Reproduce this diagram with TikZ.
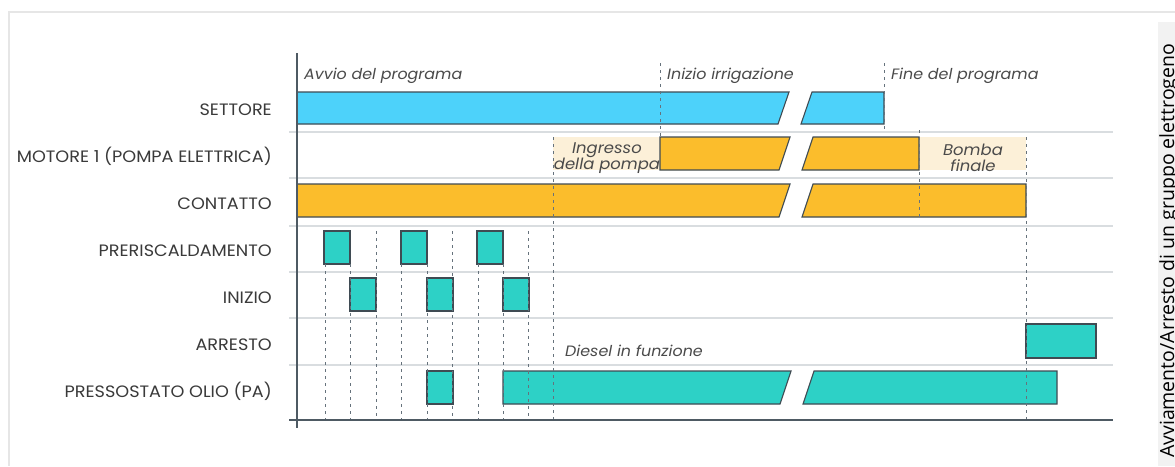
\documentclass[tikz,border=0pt]{standalone}
\usepackage{fontspec}
\setmainfont{Poppins}
\newfontfamily\labfont{Poppins}[FakeStretch=1.07]
\newfontfamily\notefont{Poppins}[FakeStretch=1.06]
\newfontfamily\panelfont{Open Sans}
\definecolor{blueon}{HTML}{4DD2FA}
\definecolor{orangeon}{HTML}{FBBD2C}
\definecolor{tealon}{HTML}{2DD1C6}
\definecolor{creamzone}{HTML}{FCF0D8}
\definecolor{edgegray}{HTML}{3F4B53}
\definecolor{sepgray}{HTML}{D9DDE0}
\definecolor{axisgray}{HTML}{4E5A63}
\definecolor{guidegray}{HTML}{66727C}
\definecolor{labgray}{HTML}{3A3A3A}
\definecolor{notegray}{HTML}{4A4A4A}
\definecolor{framegray}{HTML}{E6E6E6}
\definecolor{panelgray}{HTML}{F2F2F2}
\tikzset{
  sigbar/.style={draw=edgegray, line width=1.1pt, line join=miter},
  rowsep/.style={draw=sepgray, line width=1.5pt},
  axisline/.style={draw=axisgray, line width=1.5pt},
  guide/.style={draw=guidegray, line width=1pt, dash pattern=on 3pt off 4pt},
  siglabel/.style={anchor=base east, inner sep=0pt, text=labgray,
    font=\labfont\fontsize{16.5}{19}\selectfont},
  note/.style={anchor=base west, inner sep=0pt, text=notegray,
    font=\notefont\fontsize{15}{17}\selectfont\itshape},
  zonetext/.style={align=center, inner sep=0pt, text=notegray,
    font=\notefont\fontsize{15.5}{16}\selectfont\itshape},
  paneltext/.style={rotate=90, anchor=base west, inner sep=0pt, text=black,
    font=\panelfont\fontsize{19.5}{21}\selectfont},
}
\begin{document}
\begin{tikzpicture}[x=1pt,y=-1pt]
\useasboundingbox (0,0) rectangle (1175,466);
\fill[white] (0,0) rectangle (1175,466);

% frame and side panel
\draw[framegray, line width=1.5pt] (9,466) -- (9,12) -- (1175,12);
\fill[panelgray] (1158,22) rectangle (1175,466);
\node[paneltext] (paneltitle) at (1174,458) {Avviamento/Arresto di un gruppo elettrogeno};

% row separators
\foreach \yy in {132,178,226,272,318,365}
  \draw[rowsep] (289,\yy) -- (1113,\yy);

% signal labels
\node[siglabel] (lsettore) at (272,115) {SETTORE};
\node[siglabel] (lmotore) at (272,162) {MOTORE 1 (POMPA ELETTRICA)};
\node[siglabel] (lcontatto) at (272,209) {CONTATTO};
\node[siglabel] (lpreris) at (272,256) {PRERISCALDAMENTO};
\node[siglabel] (linizio) at (272,303) {INIZIO};
\node[siglabel] (larresto) at (272,350) {ARRESTO};
\node[siglabel] (lpress) at (272,397) {PRESSOSTATO OLIO (PA)};

% event notes
\node[note] (avvio) at (304,79) {Avvio del programa};
\node[note] (irrig) at (667,79) {Inizio irrigazione};
\node[note] (fine) at (891,79) {Fine del programa};
\node[note] (diesel) at (565,356) {Diesel in funzione};

% cream zones of the pump
\fill[creamzone] (553,137) rectangle (660,170);
\fill[creamzone] (919,137) rectangle (1026,170);
\node[zonetext] (ingresso) at (607,158) {Ingresso\\della pompa};
\node[zonetext] (bomba) at (973,158) {Bomba\\finale};

% SETTORE
\filldraw[sigbar, fill=blueon] (297,92) -- (789,92) -- (778,124) -- (297,124) -- cycle;
\filldraw[sigbar, fill=blueon] (812,92) -- (884,92) -- (884,124) -- (801,124) -- cycle;
% MOTORE 1
\filldraw[sigbar, fill=orangeon] (660,137) -- (790,137) -- (779,170) -- (660,170) -- cycle;
\filldraw[sigbar, fill=orangeon] (813,137) -- (919,137) -- (919,170) -- (802,170) -- cycle;
% CONTATTO
\filldraw[sigbar, fill=orangeon] (297,184) -- (790,184) -- (779,217) -- (297,217) -- cycle;
\filldraw[sigbar, fill=orangeon] (813,184) -- (1026,184) -- (1026,217) -- (802,217) -- cycle;
% PRERISCALDAMENTO
\foreach \xa/\xb in {324/350,401/427,477/503}
  \filldraw[sigbar, fill=tealon] (\xa,231) rectangle (\xb,264);
% INIZIO
\foreach \xa/\xb in {350/376,427/453,503/529}
  \filldraw[sigbar, fill=tealon] (\xa,278) rectangle (\xb,311);
% ARRESTO
\filldraw[sigbar, fill=tealon] (1026,324) rectangle (1096,358);
% PRESSOSTATO OLIO
\filldraw[sigbar, fill=tealon] (427,371) rectangle (453,404);
\filldraw[sigbar, fill=tealon] (503,371) -- (791,371) -- (780,404) -- (503,404) -- cycle;
\filldraw[sigbar, fill=tealon] (814,371) -- (1057,371) -- (1057,404) -- (803,404) -- cycle;

% time guides
\draw[guide] (660,63) -- (660,137);
\draw[guide] (884,63) -- (884,132);
\draw[guide] (553,137) -- (553,420);
\draw[guide] (919,130) -- (919,217);
\draw[guide] (1026,137) -- (1026,420);
\foreach \xx in {376,452,528}
  \draw[guide] (\xx,231) -- (\xx,420);
\foreach \xx in {325,350,401,427,478,503}
  \draw[guide] (\xx,264) -- (\xx,420);

% axes
\draw[axisline] (297,53) -- (297,428);
\draw[axisline] (289,420) -- (1113,420);
\end{tikzpicture}
\end{document}
